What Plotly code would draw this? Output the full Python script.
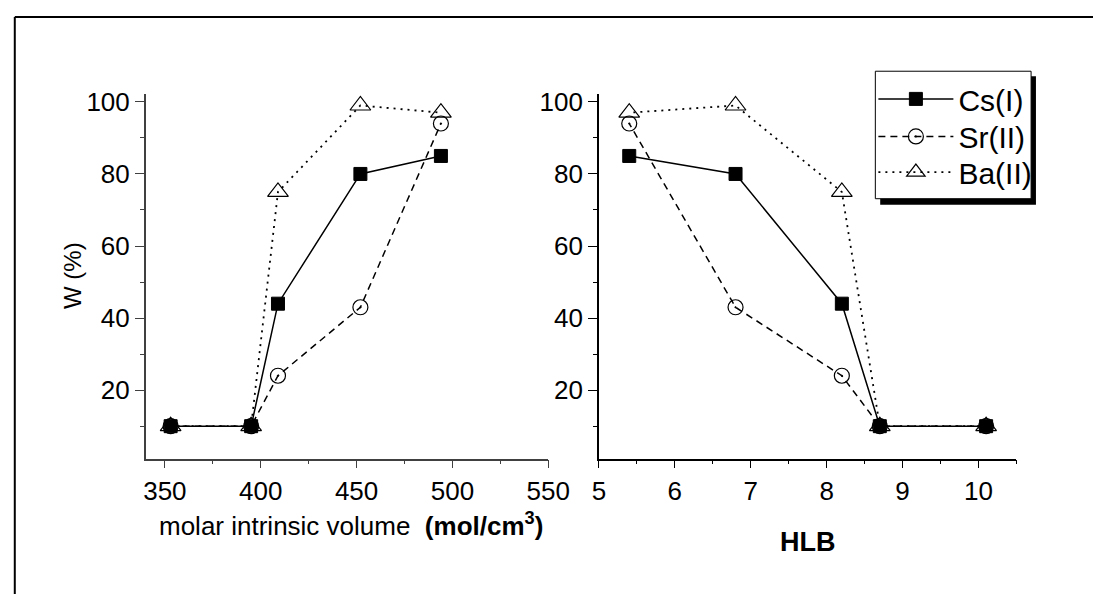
import plotly.graph_objects as go

# ---- data ----
volume = [353, 395, 409, 452, 494]
hlb = [10.1, 8.7, 8.2, 6.8, 5.4]
cs_w = [10, 10, 44, 80, 85]
sr_w = [10, 10, 24, 43, 94]
ba_w = [10, 10, 75, 99, 97]
series_names = ["Cs(I)", "Sr(II)", "Ba(II)"]
y_ticks = [20, 40, 60, 80, 100]
vol_ticks = [350, 400, 450, 500, 550]
hlb_ticks = [5, 6, 7, 8, 9, 10]

W, H = 1093, 594
FONT = "Liberation Sans, Arial, sans-serif"


def px_x(p):
    return p / W


def px_y(p):
    return 1 - p / H


styles = [
    dict(line=dict(color="black", width=1.5, dash="solid"),
         marker=dict(symbol="square", size=13, color="black", line=dict(color="black", width=1))),
    dict(line=dict(color="black", width=1.5, dash="7px,5px"),
         marker=dict(symbol="circle-open-dot", size=15, color="black", line=dict(color="black", width=1.2))),
    dict(line=dict(color="black", width=1.8, dash="2px,5px"),
         marker=dict(symbol="triangle-up-open", size=18, color="black", line=dict(color="black", width=1.2))),
]
values = [cs_w, sr_w, ba_w]
legend_ids = ["legend", "legend2", "legend3"]
legend_rows = [93, 131, 167]

fig = go.Figure()
for name, vals, st, lg in zip(series_names, values, styles, legend_ids):
    fig.add_trace(go.Scatter(x=volume, y=vals, mode="lines+markers", name=name,
                             xaxis="x", yaxis="y", showlegend=True, legend=lg, **st))
for name, vals, st in zip(series_names, values, styles):
    fig.add_trace(go.Scatter(x=hlb, y=vals, mode="lines+markers", name=name,
                             xaxis="x2", yaxis="y2", showlegend=False, **st))

ydom = [px_y(457), px_y(88)]
tickfont = dict(family=FONT, size=26, color="black")
common_y = dict(range=[1, 102.2], tickvals=y_ticks, ticks="outside", ticklen=9, tickwidth=1.2,
                showgrid=False, zeroline=False, showline=True, linewidth=1.5,
                tickfont=tickfont, minor=dict(tickvals=[10, 30, 50, 70, 90], ticks="outside",
                                              ticklen=4, tickwidth=1.2))
common_x = dict(ticks="outside", ticklen=8, tickwidth=1.2, showgrid=False, zeroline=False,
                showline=True, linewidth=1.5, tickfont=tickfont)


def legend_cfg(row):
    return dict(x=px_x(890), y=px_y(row), xanchor="left", yanchor="middle",
                bgcolor="rgba(0,0,0,0)", borderwidth=0,
                font=dict(family=FONT, size=30, color="black"),
                itemwidth=75)


fig.update_layout(
    width=W, height=H, margin=dict(l=0, r=0, t=0, b=0),
    paper_bgcolor="white", plot_bgcolor="white",
    font=dict(family=FONT, color="black"),
    xaxis=dict(domain=[px_x(142.5), px_x(556)], range=[340, 550], tickvals=vol_ticks,
               anchor="y", linecolor="#404040", tickcolor="#404040",
               minor=dict(tickvals=[375, 425, 475, 525], ticks="outside", ticklen=4,
                          tickwidth=1.2, tickcolor="#404040"),
               **common_x),
    yaxis=dict(domain=ydom, anchor="x", linecolor="#404040", tickcolor="#404040", **common_y),
    xaxis2=dict(domain=[px_x(608), px_x(1037)], range=[5, 10.5], tickvals=hlb_ticks,
                anchor="y2", linecolor="black", tickcolor="black",
                minor=dict(tickvals=[5.5, 6.5, 7.5, 8.5, 9.5, 10.5], ticks="outside", ticklen=4,
                           tickwidth=1.2, tickcolor="black"),
                **common_x),
    yaxis2=dict(domain=ydom, anchor="x2", linecolor="black", tickcolor="black", **common_y),
    legend=legend_cfg(legend_rows[0]),
    legend2=legend_cfg(legend_rows[1]),
    legend3=legend_cfg(legend_rows[2]),
    showlegend=True,
)

# legend box with shadow
fig.add_shape(type="rect", xref="paper", yref="paper",
              x0=px_x(897), x1=px_x(1057), y0=px_y(200), y1=px_y(70),
              fillcolor="black", line=dict(width=0), layer="above")
fig.add_shape(type="rect", xref="paper", yref="paper",
              x0=px_x(892), x1=px_x(1052), y0=px_y(194), y1=px_y(65),
              fillcolor="white", line=dict(color="black", width=1), layer="above")
# outer frame (left and top edges; the rest is cropped away)
fig.add_shape(type="line", xref="paper", yref="paper",
              x0=px_x(8), x1=px_x(8), y0=-0.1, y1=px_y(10),
              line=dict(color="black", width=2))
fig.add_shape(type="line", xref="paper", yref="paper",
              x0=px_x(8), x1=1.1, y0=px_y(10), y1=px_y(10),
              line=dict(color="black", width=2))

# axis titles
fig.add_annotation(text="molar intrinsic volume  <b>(mol/cm<sup>3</sup>)</b>",
                   x=px_x(353), y=px_y(505), xref="paper", yref="paper",
                   showarrow=False, xanchor="center", yanchor="top",
                   font=dict(family=FONT, size=26, color="black"))
fig.add_annotation(text="<b>HLB</b>", x=px_x(823), y=px_y(541), xref="paper", yref="paper",
                   showarrow=False, xanchor="center", yanchor="middle",
                   font=dict(family=FONT, size=27, color="black"))
fig.add_annotation(text="W (%)", x=px_x(68), y=px_y(272), xref="paper", yref="paper",
                   showarrow=False, xanchor="center", yanchor="middle", textangle=-90,
                   font=dict(family=FONT, size=24, color="black"))

fig.write_html("out.html", config={"displayModeBar": False})
